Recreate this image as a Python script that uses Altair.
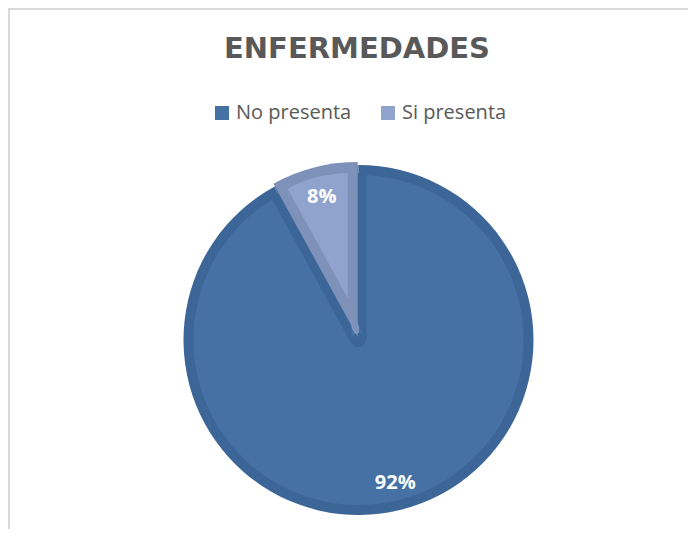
import math
import altair as alt
import pandas as pd

# ---- data ----
categories = ["No presenta", "Si presenta"]
values = [92, 8]
labels = ["92%", "8%"]
title_text = "ENFERMEDADES"

df = pd.DataFrame({"cat": categories, "val": values, "lab": labels,
                   "idx": list(range(len(categories)))})

# ---- styles ----
BIG_FILL = "#4571a5"
BIG_EDGE = "#3d6698"
SMALL_FILL = "#8fa3cc"
SMALL_EDGE = "#7e91b9"
GRAY = "#595959"
FRAME = "#d9d9d9"

W, H = 680, 521
CX, CY = 350.5, 332          # pie centre inside the view
R = 175                       # outer radius
RING = 10                     # border width of slices
BAND = 8                      # dark band of big slice next to the small one
EXPLODE = 3

# geometry derived from the data
total = sum(values)
frac = values[1] / total
a_start = 2 * math.pi * (1 - frac)
half = math.pi * frac
bis = a_start + half
ux, uy = math.sin(bis), -math.cos(bis)
ex, ey = EXPLODE * ux, EXPLODE * uy
shift = RING / math.sin(half)

base = alt.Chart(df)
theta = alt.Theta("val:Q", stack=True)
order = alt.Order("idx:Q", sort="ascending")
only_small = alt.when(alt.datum.cat == categories[1]).then(alt.value(1)).otherwise(alt.value(0))


def arc(radius, dx, dy, **enc):
    return base.mark_arc(radius=radius, strokeWidth=0).encode(
        theta=theta, order=order,
        x=alt.value(CX + dx), y=alt.value(CY + dy), **enc)


legend = alt.Legend(orient="none", legendX=204, legendY=95, direction="horizontal",
                    title=None, symbolType="square", symbolSize=196,
                    symbolStrokeWidth=0, labelFont="Open Sans", labelFontSize=20,
                    labelColor=GRAY, labelOffset=4, columnPadding=26, padding=0,
                    labelLimit=300)

l1 = arc(R, 0, 0, fill=alt.value(BIG_EDGE))
l2 = arc(R - RING, 0, 0,
         color=alt.Color("cat:N", scale=alt.Scale(domain=categories,
                                                  range=[BIG_FILL, SMALL_FILL]),
                         legend=legend))
l3 = arc(R - RING + 2, BAND, 0, fill=alt.value(BIG_EDGE), opacity=only_small)
l4 = arc(R - RING + 2, -BAND * math.cos(a_start), -BAND * math.sin(a_start),
         fill=alt.value(BIG_EDGE), opacity=only_small)
l5 = base.mark_point(filled=True, shape="circle", size=math.pi * BAND ** 2,
                     color=BIG_EDGE, opacity=1, strokeWidth=0).encode(
    x=alt.value(CX), y=alt.value(CY))
l6 = arc(R, ex, ey, fill=alt.value(SMALL_EDGE), opacity=only_small)
l7 = arc(R - RING - shift, ex + shift * ux, ey + shift * uy,
         fill=alt.value(SMALL_FILL), opacity=only_small)

txt = base.mark_text(radius=148, font="Open Sans", fontSize=20, fontWeight="bold",
                     color="white", align="center", baseline="middle").encode(
    theta=theta, order=order, text="lab:N",
    x=alt.value(CX), y=alt.value(CY))

title = alt.Chart(pd.DataFrame({"t": [title_text]})).mark_text(
    font="DejaVu Sans", fontSize=29, fontWeight="bold", color=GRAY,
    align="center", baseline="alphabetic").encode(
    text="t:N", x=alt.value(349), y=alt.value(50))

frame_src = alt.Chart(pd.DataFrame({"k": [0]}))
frame_left = frame_src.mark_rule(color=FRAME, strokeWidth=2).encode(
    x=alt.value(1), y=alt.value(0), y2=alt.value(H))
frame_top = frame_src.mark_rule(color=FRAME, strokeWidth=2).encode(
    y=alt.value(1), x=alt.value(0), x2=alt.value(W))

chart = alt.layer(frame_left, frame_top, l1, l2, l3, l4, l5, l6, l7, txt, title).properties(
    width=W, height=H, autosize=alt.AutoSizeParams(type="none"), padding=0,
    background="white"
).configure_view(strokeWidth=0)

chart.save("out.html", embed_options={"renderer": "svg", "actions": False})
